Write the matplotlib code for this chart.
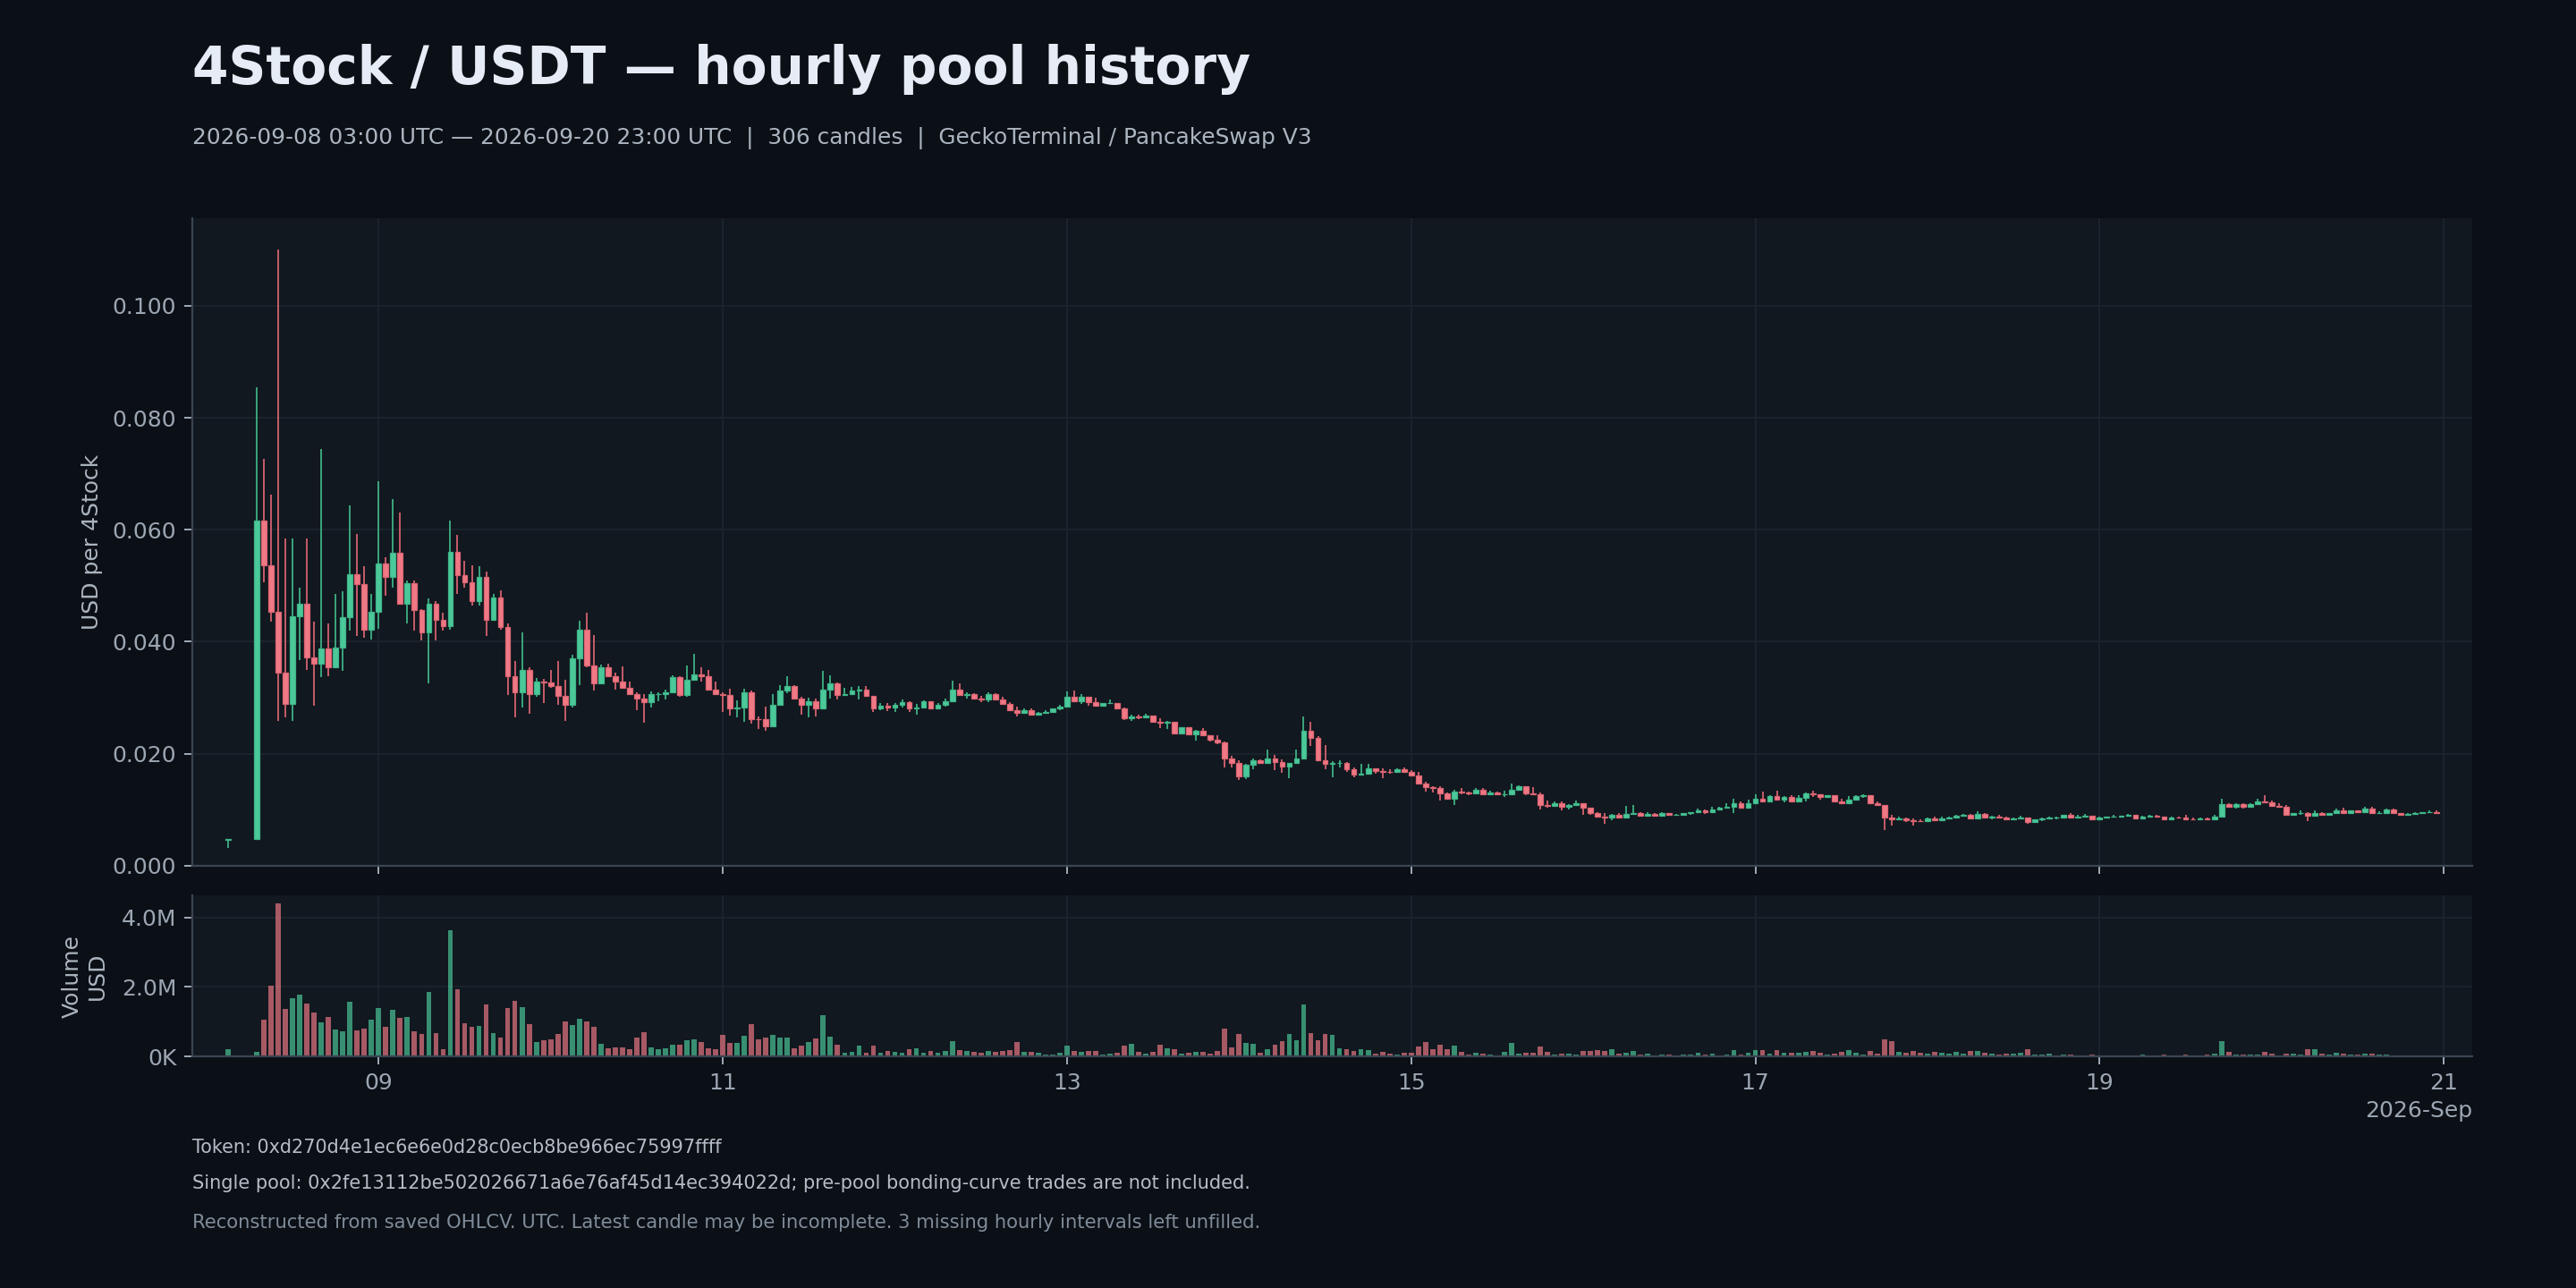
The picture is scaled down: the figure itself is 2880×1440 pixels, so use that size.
import matplotlib
matplotlib.use("Agg")
import matplotlib.pyplot as plt
import matplotlib.dates as mdates
from matplotlib.ticker import FuncFormatter, MultipleLocator
import numpy as np
import pandas as pd

# hourly candle times (04:00-06:00 on the 8th are missing)
times = pd.DatetimeIndex(["2026-09-08 03:00"]).append(
    pd.date_range("2026-09-08 07:00", "2026-09-20 23:00", freq="h"))

opens = [
    0.0046,
    0.0047, 0.0616, 0.0537, 0.0454, 0.0344, 0.0289, 0.0445, 0.0468, 0.0372, 0.0361, 0.0387,
    0.0355, 0.0389, 0.0443, 0.0521, 0.0503, 0.0422,
    0.0454, 0.0540, 0.0516, 0.0558, 0.0468, 0.0504, 0.0456, 0.0417, 0.0468, 0.0439, 0.0428, 0.0561,
    0.0519, 0.0506, 0.0473, 0.0516, 0.0439, 0.0479, 0.0426, 0.0339, 0.0309, 0.0350, 0.0306, 0.0328,
    0.0327, 0.0320, 0.0303, 0.0287, 0.0371, 0.0421, 0.0358, 0.0326, 0.0355, 0.0339, 0.0328, 0.0317,
    0.0307, 0.0298, 0.0292, 0.0306, 0.0307, 0.0309, 0.0336, 0.0305, 0.0332, 0.0341, 0.0339, 0.0315,
    0.0306, 0.0304, 0.0280, 0.0282, 0.0309, 0.0262, 0.0261, 0.0248, 0.0287, 0.0312, 0.0320, 0.0298,
    0.0287, 0.0293, 0.0280, 0.0314, 0.0325, 0.0305, 0.0306, 0.0312, 0.0315, 0.0303, 0.0280, 0.0286,
    0.0283, 0.0287, 0.0292, 0.0281, 0.0282, 0.0294, 0.0280, 0.0287, 0.0293, 0.0314, 0.0305, 0.0306,
    0.0298, 0.0297, 0.0306, 0.0296, 0.0289, 0.0278, 0.0273, 0.0278, 0.0270, 0.0272, 0.0275, 0.0280,
    0.0284, 0.0302, 0.0293, 0.0302, 0.0292, 0.0285, 0.0290, 0.0291, 0.0281, 0.0263, 0.0266, 0.0264,
    0.0268, 0.0256, 0.0255, 0.0256, 0.0236, 0.0247, 0.0235, 0.0240, 0.0232, 0.0225, 0.0220, 0.0191,
    0.0184, 0.0159, 0.0180, 0.0188, 0.0183, 0.0191, 0.0185, 0.0177, 0.0183, 0.0192, 0.0240, 0.0228,
    0.0188, 0.0181, 0.0183, 0.0184, 0.0172, 0.0163, 0.0164, 0.0174, 0.0169, 0.0168, 0.0167, 0.0172,
    0.0168, 0.0161, 0.0147, 0.0140, 0.0139, 0.0129, 0.0119, 0.0132, 0.0131, 0.0129, 0.0136, 0.0127,
    0.0130, 0.0127, 0.0128, 0.0136, 0.0141, 0.0129, 0.0128, 0.0108, 0.0107, 0.0111, 0.0105, 0.0108,
    0.0112, 0.0103, 0.0094, 0.0087, 0.0085, 0.0090, 0.0085, 0.0092, 0.0094, 0.0089, 0.0092, 0.0089,
    0.0093, 0.0090, 0.0091, 0.0093, 0.0095, 0.0098, 0.0096, 0.0100, 0.0104, 0.0105, 0.0111, 0.0104,
    0.0112, 0.0120, 0.0115, 0.0124, 0.0117, 0.0122, 0.0115, 0.0121, 0.0129, 0.0128, 0.0123, 0.0126,
    0.0114, 0.0112, 0.0117, 0.0124, 0.0126, 0.0112, 0.0108, 0.0086, 0.0083, 0.0084, 0.0081, 0.0080,
    0.0079, 0.0084, 0.0081, 0.0084, 0.0086, 0.0089, 0.0091, 0.0084, 0.0092, 0.0086, 0.0087, 0.0086,
    0.0083, 0.0084, 0.0086, 0.0077, 0.0082, 0.0084, 0.0085, 0.0086, 0.0091, 0.0086, 0.0087, 0.0089,
    0.0083, 0.0086, 0.0087, 0.0088, 0.0089, 0.0090, 0.0084, 0.0088, 0.0089, 0.0087, 0.0083, 0.0086,
    0.0085, 0.0083, 0.0082, 0.0084, 0.0082, 0.0087, 0.0109, 0.0105, 0.0109, 0.0105, 0.0109, 0.0115,
    0.0113, 0.0107, 0.0105, 0.0091, 0.0093, 0.0094, 0.0089, 0.0094, 0.0091, 0.0094, 0.0098, 0.0093,
    0.0099, 0.0096, 0.0102, 0.0093, 0.0094, 0.0100, 0.0093, 0.0091, 0.0092, 0.0094, 0.0095, 0.0096,
]

highs = [
    0.0047,
    0.0854, 0.0726, 0.0662, 0.1101, 0.0584, 0.0584, 0.0497, 0.0584, 0.0436, 0.0744, 0.0432,
    0.0486, 0.0490, 0.0644, 0.0592, 0.0535, 0.0486,
    0.0687, 0.0550, 0.0654, 0.0630, 0.0510, 0.0510, 0.0458, 0.0477, 0.0472, 0.0451, 0.0616, 0.0590,
    0.0545, 0.0537, 0.0535, 0.0526, 0.0485, 0.0492, 0.0432, 0.0365, 0.0416, 0.0355, 0.0335, 0.0334,
    0.0349, 0.0365, 0.0332, 0.0376, 0.0438, 0.0451, 0.0411, 0.0359, 0.0361, 0.0344, 0.0356, 0.0329,
    0.0309, 0.0306, 0.0311, 0.0309, 0.0314, 0.0340, 0.0338, 0.0357, 0.0378, 0.0354, 0.0349, 0.0329,
    0.0309, 0.0316, 0.0295, 0.0316, 0.0312, 0.0266, 0.0284, 0.0306, 0.0322, 0.0338, 0.0322, 0.0302,
    0.0300, 0.0298, 0.0348, 0.0340, 0.0327, 0.0317, 0.0319, 0.0320, 0.0320, 0.0303, 0.0290, 0.0290,
    0.0290, 0.0296, 0.0294, 0.0289, 0.0295, 0.0294, 0.0290, 0.0298, 0.0330, 0.0325, 0.0309, 0.0308,
    0.0303, 0.0309, 0.0308, 0.0302, 0.0292, 0.0284, 0.0280, 0.0280, 0.0274, 0.0278, 0.0280, 0.0287,
    0.0311, 0.0312, 0.0306, 0.0302, 0.0300, 0.0290, 0.0296, 0.0291, 0.0282, 0.0269, 0.0269, 0.0271,
    0.0268, 0.0263, 0.0259, 0.0256, 0.0247, 0.0247, 0.0242, 0.0245, 0.0232, 0.0232, 0.0222, 0.0196,
    0.0188, 0.0181, 0.0192, 0.0189, 0.0207, 0.0197, 0.0189, 0.0183, 0.0207, 0.0266, 0.0256, 0.0231,
    0.0215, 0.0187, 0.0188, 0.0185, 0.0175, 0.0181, 0.0181, 0.0174, 0.0173, 0.0172, 0.0173, 0.0176,
    0.0171, 0.0168, 0.0150, 0.0142, 0.0141, 0.0130, 0.0135, 0.0138, 0.0132, 0.0138, 0.0138, 0.0133,
    0.0132, 0.0133, 0.0146, 0.0144, 0.0141, 0.0140, 0.0130, 0.0116, 0.0115, 0.0115, 0.0109, 0.0116,
    0.0112, 0.0103, 0.0096, 0.0093, 0.0092, 0.0093, 0.0106, 0.0108, 0.0096, 0.0096, 0.0093, 0.0096,
    0.0094, 0.0092, 0.0094, 0.0096, 0.0101, 0.0100, 0.0105, 0.0105, 0.0112, 0.0119, 0.0114, 0.0117,
    0.0128, 0.0132, 0.0125, 0.0133, 0.0124, 0.0125, 0.0125, 0.0131, 0.0133, 0.0128, 0.0126, 0.0126,
    0.0119, 0.0124, 0.0126, 0.0128, 0.0126, 0.0115, 0.0108, 0.0090, 0.0087, 0.0085, 0.0084, 0.0082,
    0.0085, 0.0087, 0.0088, 0.0087, 0.0091, 0.0092, 0.0092, 0.0097, 0.0093, 0.0089, 0.0090, 0.0087,
    0.0085, 0.0089, 0.0086, 0.0082, 0.0085, 0.0087, 0.0087, 0.0091, 0.0093, 0.0090, 0.0092, 0.0089,
    0.0087, 0.0088, 0.0090, 0.0089, 0.0092, 0.0090, 0.0089, 0.0090, 0.0090, 0.0088, 0.0088, 0.0087,
    0.0090, 0.0085, 0.0085, 0.0085, 0.0090, 0.0119, 0.0111, 0.0111, 0.0111, 0.0112, 0.0119, 0.0125,
    0.0116, 0.0111, 0.0108, 0.0094, 0.0098, 0.0096, 0.0098, 0.0096, 0.0094, 0.0101, 0.0103, 0.0099,
    0.0099, 0.0105, 0.0105, 0.0097, 0.0101, 0.0101, 0.0094, 0.0093, 0.0095, 0.0095, 0.0098, 0.0098,
]

lows = [
    0.0032,
    0.0047, 0.0506, 0.0436, 0.0259, 0.0265, 0.0259, 0.0367, 0.0350, 0.0286, 0.0337, 0.0339,
    0.0355, 0.0348, 0.0419, 0.0410, 0.0407, 0.0404,
    0.0423, 0.0482, 0.0497, 0.0468, 0.0432, 0.0419, 0.0402, 0.0326, 0.0402, 0.0419, 0.0421, 0.0485,
    0.0497, 0.0464, 0.0465, 0.0410, 0.0437, 0.0421, 0.0304, 0.0265, 0.0282, 0.0271, 0.0302, 0.0291,
    0.0318, 0.0287, 0.0259, 0.0282, 0.0322, 0.0355, 0.0313, 0.0326, 0.0339, 0.0315, 0.0317, 0.0306,
    0.0278, 0.0255, 0.0283, 0.0294, 0.0296, 0.0308, 0.0302, 0.0302, 0.0331, 0.0328, 0.0315, 0.0305,
    0.0274, 0.0268, 0.0265, 0.0256, 0.0254, 0.0244, 0.0241, 0.0247, 0.0287, 0.0308, 0.0297, 0.0270,
    0.0265, 0.0267, 0.0280, 0.0298, 0.0296, 0.0304, 0.0304, 0.0297, 0.0303, 0.0274, 0.0278, 0.0276,
    0.0274, 0.0283, 0.0274, 0.0270, 0.0280, 0.0280, 0.0280, 0.0284, 0.0292, 0.0305, 0.0298, 0.0297,
    0.0292, 0.0292, 0.0296, 0.0289, 0.0278, 0.0266, 0.0272, 0.0268, 0.0268, 0.0272, 0.0273, 0.0278,
    0.0283, 0.0292, 0.0289, 0.0286, 0.0285, 0.0285, 0.0288, 0.0281, 0.0260, 0.0259, 0.0262, 0.0264,
    0.0256, 0.0245, 0.0244, 0.0236, 0.0236, 0.0235, 0.0223, 0.0232, 0.0222, 0.0217, 0.0175, 0.0175,
    0.0153, 0.0155, 0.0172, 0.0181, 0.0183, 0.0171, 0.0165, 0.0156, 0.0181, 0.0191, 0.0213, 0.0187,
    0.0172, 0.0157, 0.0175, 0.0167, 0.0157, 0.0162, 0.0164, 0.0164, 0.0156, 0.0164, 0.0167, 0.0165,
    0.0161, 0.0145, 0.0132, 0.0130, 0.0116, 0.0119, 0.0108, 0.0127, 0.0126, 0.0127, 0.0127, 0.0127,
    0.0127, 0.0123, 0.0127, 0.0136, 0.0126, 0.0127, 0.0100, 0.0104, 0.0105, 0.0099, 0.0100, 0.0108,
    0.0091, 0.0091, 0.0085, 0.0074, 0.0081, 0.0085, 0.0085, 0.0091, 0.0089, 0.0089, 0.0089, 0.0089,
    0.0089, 0.0089, 0.0089, 0.0091, 0.0095, 0.0092, 0.0096, 0.0099, 0.0102, 0.0094, 0.0102, 0.0104,
    0.0110, 0.0113, 0.0113, 0.0117, 0.0113, 0.0115, 0.0113, 0.0115, 0.0123, 0.0118, 0.0123, 0.0113,
    0.0109, 0.0110, 0.0116, 0.0121, 0.0109, 0.0107, 0.0063, 0.0072, 0.0083, 0.0077, 0.0071, 0.0078,
    0.0078, 0.0079, 0.0081, 0.0083, 0.0084, 0.0088, 0.0083, 0.0084, 0.0084, 0.0083, 0.0086, 0.0081,
    0.0081, 0.0083, 0.0075, 0.0077, 0.0079, 0.0083, 0.0083, 0.0085, 0.0086, 0.0086, 0.0086, 0.0083,
    0.0083, 0.0084, 0.0085, 0.0087, 0.0088, 0.0083, 0.0084, 0.0087, 0.0087, 0.0083, 0.0083, 0.0085,
    0.0083, 0.0082, 0.0082, 0.0081, 0.0082, 0.0086, 0.0103, 0.0102, 0.0102, 0.0105, 0.0108, 0.0113,
    0.0105, 0.0105, 0.0091, 0.0089, 0.0091, 0.0079, 0.0089, 0.0091, 0.0091, 0.0093, 0.0092, 0.0093,
    0.0096, 0.0096, 0.0093, 0.0092, 0.0093, 0.0093, 0.0091, 0.0091, 0.0091, 0.0092, 0.0095, 0.0093,
]

closes = [
    0.0047,
    0.0616, 0.0537, 0.0454, 0.0344, 0.0289, 0.0445, 0.0468, 0.0372, 0.0361, 0.0387, 0.0355,
    0.0389, 0.0443, 0.0521, 0.0503, 0.0422, 0.0454,
    0.0540, 0.0516, 0.0558, 0.0468, 0.0504, 0.0456, 0.0417, 0.0468, 0.0439, 0.0428, 0.0561, 0.0519,
    0.0506, 0.0473, 0.0516, 0.0439, 0.0479, 0.0426, 0.0339, 0.0309, 0.0350, 0.0306, 0.0328, 0.0327,
    0.0320, 0.0303, 0.0287, 0.0371, 0.0421, 0.0358, 0.0326, 0.0355, 0.0339, 0.0328, 0.0317, 0.0307,
    0.0298, 0.0292, 0.0306, 0.0307, 0.0309, 0.0336, 0.0305, 0.0332, 0.0341, 0.0339, 0.0315, 0.0306,
    0.0304, 0.0280, 0.0282, 0.0309, 0.0262, 0.0261, 0.0248, 0.0287, 0.0312, 0.0320, 0.0298, 0.0287,
    0.0293, 0.0280, 0.0314, 0.0325, 0.0305, 0.0306, 0.0312, 0.0315, 0.0303, 0.0280, 0.0286, 0.0283,
    0.0287, 0.0292, 0.0281, 0.0282, 0.0294, 0.0280, 0.0287, 0.0293, 0.0314, 0.0305, 0.0306, 0.0298,
    0.0297, 0.0306, 0.0296, 0.0289, 0.0278, 0.0273, 0.0278, 0.0270, 0.0272, 0.0275, 0.0280, 0.0284,
    0.0302, 0.0293, 0.0302, 0.0292, 0.0285, 0.0290, 0.0291, 0.0281, 0.0263, 0.0266, 0.0264, 0.0268,
    0.0256, 0.0255, 0.0256, 0.0236, 0.0247, 0.0235, 0.0240, 0.0232, 0.0225, 0.0220, 0.0191, 0.0184,
    0.0159, 0.0180, 0.0188, 0.0183, 0.0191, 0.0185, 0.0177, 0.0183, 0.0192, 0.0240, 0.0228, 0.0188,
    0.0181, 0.0183, 0.0184, 0.0172, 0.0163, 0.0164, 0.0174, 0.0169, 0.0168, 0.0167, 0.0172, 0.0168,
    0.0161, 0.0147, 0.0140, 0.0139, 0.0129, 0.0119, 0.0132, 0.0131, 0.0129, 0.0136, 0.0127, 0.0130,
    0.0127, 0.0128, 0.0136, 0.0141, 0.0129, 0.0128, 0.0108, 0.0107, 0.0111, 0.0105, 0.0108, 0.0112,
    0.0103, 0.0094, 0.0087, 0.0085, 0.0090, 0.0085, 0.0092, 0.0094, 0.0089, 0.0092, 0.0089, 0.0093,
    0.0090, 0.0091, 0.0093, 0.0095, 0.0098, 0.0096, 0.0100, 0.0104, 0.0105, 0.0111, 0.0104, 0.0112,
    0.0120, 0.0115, 0.0124, 0.0117, 0.0122, 0.0115, 0.0121, 0.0129, 0.0128, 0.0123, 0.0126, 0.0114,
    0.0112, 0.0117, 0.0124, 0.0126, 0.0112, 0.0108, 0.0086, 0.0083, 0.0084, 0.0081, 0.0080, 0.0079,
    0.0084, 0.0081, 0.0084, 0.0086, 0.0089, 0.0091, 0.0084, 0.0092, 0.0086, 0.0087, 0.0086, 0.0083,
    0.0084, 0.0086, 0.0077, 0.0082, 0.0084, 0.0085, 0.0086, 0.0091, 0.0086, 0.0087, 0.0089, 0.0083,
    0.0086, 0.0087, 0.0088, 0.0089, 0.0090, 0.0084, 0.0088, 0.0089, 0.0087, 0.0083, 0.0086, 0.0085,
    0.0083, 0.0082, 0.0084, 0.0082, 0.0087, 0.0109, 0.0105, 0.0109, 0.0105, 0.0109, 0.0115, 0.0113,
    0.0107, 0.0105, 0.0091, 0.0093, 0.0094, 0.0089, 0.0094, 0.0091, 0.0094, 0.0098, 0.0093, 0.0099,
    0.0096, 0.0102, 0.0093, 0.0094, 0.0100, 0.0093, 0.0091, 0.0092, 0.0094, 0.0095, 0.0096, 0.0093,
]

# volume in millions of USD
volume_m = [
    0.21,
    0.13, 1.05, 2.03, 4.41, 1.36, 1.67, 1.77, 1.51, 1.26, 0.97, 1.13,
    0.77, 0.72, 1.56, 0.74, 0.79, 1.05,
    1.38, 0.85, 1.33, 1.10, 1.13, 0.72, 0.64, 1.85, 0.67, 0.21, 3.62, 1.92,
    0.95, 0.85, 0.87, 1.49, 0.67, 0.54, 1.38, 1.59, 1.41, 0.92, 0.41, 0.46,
    0.49, 0.64, 1.00, 0.90, 1.08, 1.00, 0.85, 0.36, 0.23, 0.26, 0.26, 0.21,
    0.54, 0.69, 0.26, 0.21, 0.23, 0.33, 0.33, 0.46, 0.49, 0.41, 0.23, 0.21,
    0.62, 0.38, 0.38, 0.59, 0.92, 0.49, 0.54, 0.62, 0.54, 0.54, 0.23, 0.31,
    0.41, 0.51, 1.18, 0.56, 0.33, 0.10, 0.13, 0.31, 0.10, 0.31, 0.10, 0.15,
    0.13, 0.10, 0.21, 0.23, 0.10, 0.15, 0.10, 0.15, 0.44, 0.18, 0.15, 0.13,
    0.10, 0.15, 0.13, 0.15, 0.18, 0.41, 0.13, 0.13, 0.10, 0.05, 0.05, 0.10,
    0.31, 0.15, 0.13, 0.15, 0.15, 0.05, 0.08, 0.10, 0.31, 0.36, 0.13, 0.08,
    0.13, 0.33, 0.23, 0.21, 0.08, 0.10, 0.13, 0.13, 0.08, 0.15, 0.79, 0.26,
    0.64, 0.38, 0.36, 0.10, 0.21, 0.33, 0.44, 0.64, 0.46, 1.49, 0.67, 0.46,
    0.64, 0.62, 0.23, 0.21, 0.15, 0.21, 0.18, 0.08, 0.13, 0.08, 0.05, 0.10,
    0.10, 0.28, 0.41, 0.21, 0.33, 0.21, 0.31, 0.13, 0.05, 0.10, 0.08, 0.05,
    0.02, 0.13, 0.38, 0.08, 0.10, 0.10, 0.28, 0.13, 0.05, 0.08, 0.08, 0.05,
    0.15, 0.15, 0.18, 0.15, 0.21, 0.08, 0.10, 0.15, 0.05, 0.08, 0.02, 0.05,
    0.05, 0.02, 0.05, 0.05, 0.10, 0.05, 0.08, 0.01, 0.05, 0.18, 0.05, 0.10,
    0.18, 0.18, 0.08, 0.18, 0.10, 0.10, 0.10, 0.13, 0.15, 0.10, 0.05, 0.08,
    0.13, 0.18, 0.10, 0.05, 0.15, 0.08, 0.49, 0.44, 0.13, 0.10, 0.15, 0.10,
    0.08, 0.13, 0.10, 0.08, 0.13, 0.08, 0.15, 0.15, 0.10, 0.08, 0.05, 0.08,
    0.08, 0.10, 0.21, 0.05, 0.05, 0.08, 0.01, 0.05, 0.05, 0.01, 0.01, 0.05,
    0.01, 0.01, 0.01, 0.01, 0.01, 0.01, 0.05, 0.01, 0.01, 0.05, 0.01, 0.01,
    0.05, 0.01, 0.01, 0.05, 0.08, 0.44, 0.13, 0.05, 0.05, 0.05, 0.05, 0.13,
    0.08, 0.01, 0.08, 0.08, 0.05, 0.21, 0.21, 0.08, 0.05, 0.10, 0.08, 0.05,
    0.05, 0.08, 0.08, 0.05, 0.05, 0.01, 0.01, 0.01, 0.01, 0.01, 0.01, 0.01,
]

title = "4Stock / USDT \u2014 hourly pool history"
subtitle = ("2026-09-08 03:00 UTC \u2014 2026-09-20 23:00 UTC  |  306 candles  |  "
            "GeckoTerminal / PancakeSwap V3")
notes = [
    "Token: 0xd270d4e1ec6e6e0d28c0ecb8be966ec75997ffff",
    "Single pool: 0x2fe13112be502026671a6e76af45d14ec394022d; pre-pool bonding-curve trades are not included.",
    "Reconstructed from saved OHLCV. UTC. Latest candle may be incomplete. 3 missing hourly intervals left unfilled.",
]

BG = "#0b0f16"
PANEL = "#11181f"
GRID = "#1a232c"
SPINE = "#3a4551"
TICK = "#9ba6b2"
UP, UP_EDGE = "#4cc99b", "#3fb588"
DOWN, DOWN_EDGE = "#f07986", "#dc6472"

o = np.array(opens)
h = np.array(highs)
l = np.array(lows)
c = np.array(closes)
v = np.array(volume_m)
x = mdates.date2num(times.to_pydatetime())
up = c >= o
width = 0.72 / 24

fig = plt.figure(figsize=(16, 8), dpi=180, facecolor=BG)
ax = fig.add_axes([0.0746, 0.328, 0.8852, 0.5024])
axv = fig.add_axes([0.0746, 0.1798, 0.8852, 0.125], sharex=ax)

for a in (ax, axv):
    a.set_facecolor(PANEL)
    a.grid(True, color=GRID, linewidth=0.8)
    a.set_axisbelow(True)
    for side in ("top", "right"):
        a.spines[side].set_visible(False)
    for side in ("left", "bottom"):
        a.spines[side].set_color(SPINE)
        a.spines[side].set_linewidth(0.9)
    a.tick_params(colors=TICK, labelsize=10, length=3.5, width=0.8)

# candles
ax.vlines(x, l, h, colors=np.where(up, UP_EDGE, DOWN_EDGE), linewidth=0.7, zorder=2)
body = np.maximum(np.abs(c - o), 0.00006)
ax.bar(x, body, bottom=np.minimum(o, c), width=width,
       color=np.where(up, UP, DOWN), edgecolor=np.where(up, UP_EDGE, DOWN_EDGE),
       linewidth=0.5, zorder=3)

ax.set_ylim(0, h.max() * 1.05)
ax.yaxis.set_major_locator(MultipleLocator(0.02))
ax.yaxis.set_major_formatter(FuncFormatter(lambda val, pos: f"{val:.3f}"))
ax.set_ylabel("USD per 4Stock", color="#aab4be", fontsize=10)
ax.tick_params(axis="x", labelbottom=False)

# volume
axv.bar(x, v, width=width, color=np.where(up, UP, DOWN), alpha=0.68, linewidth=0)
axv.set_ylim(0, v.max() * 1.05)
axv.set_yticks([0, 2, 4])
axv.yaxis.set_major_formatter(
    FuncFormatter(lambda val, pos: "0K" if val == 0 else f"{val:.1f}M"))
axv.set_ylabel("Volume\nUSD", color="#aab4be", fontsize=10)

ax.set_xlim(x[0] - 5 / 24, x[-1] + 5 / 24)
locator = mdates.DayLocator(bymonthday=range(1, 32, 2))
formatter = mdates.ConciseDateFormatter(locator)
axv.xaxis.set_major_locator(locator)
axv.xaxis.set_major_formatter(formatter)
axv.xaxis.get_offset_text().set_color(TICK)
axv.xaxis.get_offset_text().set_fontsize(10)

ax.yaxis.set_label_coords(-0.039, 0.5)
axv.yaxis.set_label_coords(-0.037, 0.5)

fig.text(0.0746, 0.9345, title, fontsize=23.3, fontweight="bold", color="#e6ecf5", va="baseline")
fig.text(0.0746, 0.8882, subtitle, fontsize=9.95, color="#aab4bf", va="baseline")
fig.text(0.0746, 0.1049, notes[0], fontsize=8.3, color="#b4bcc6", va="baseline")
fig.text(0.0746, 0.0771, notes[1], fontsize=8.35, color="#b4bcc6", va="baseline")
fig.text(0.0746, 0.0463, notes[2], fontsize=8.45, color="#7f8c99", va="baseline")

fig.savefig("out.png", dpi=180, facecolor=BG)
